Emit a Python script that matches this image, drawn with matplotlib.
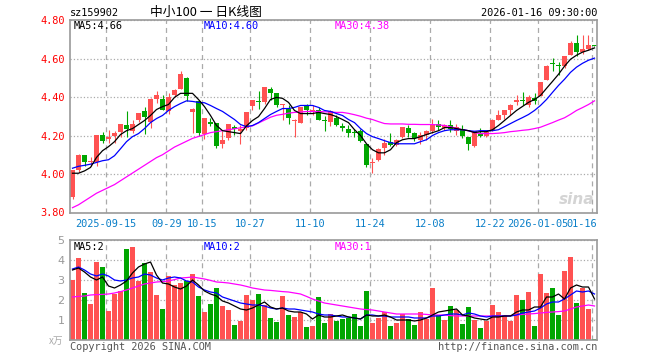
import matplotlib
matplotlib.use('Agg')
import matplotlib.pyplot as plt
import numpy as np
from matplotlib.transforms import blended_transform_factory

plt.rcParams['lines.scale_dashes'] = False

# ---------------- data ----------------
opens = [3.88, 4.02, 4.10, 4.06, 4.06, 4.20, 4.18, 4.20, 4.22, 4.255,
         4.225, 4.28, 4.325, 4.27, 4.39, 4.39, 4.325, 4.41, 4.44, 4.50,
         4.32, 4.38, 4.21, 4.272, 4.265, 4.158, 4.185, 4.245, 4.225, 4.24,
         4.355, 4.378, 4.372, 4.44, 4.42, 4.358, 4.34, 4.276, 4.267, 4.356,
         4.32, 4.33, 4.28, 4.272, 4.293, 4.25, 4.235, 4.217, 4.225, 4.157,
         4.055, 4.074, 4.137, 4.168, 4.152, 4.194, 4.241, 4.215, 4.178, 4.205,
         4.225, 4.262, 4.241, 4.257, 4.225, 4.236, 4.194, 4.147, 4.21, 4.20,
         4.231, 4.283, 4.304, 4.335, 4.372, 4.384, 4.356, 4.393, 4.403, 4.487,
         4.575, 4.565, 4.56, 4.617, 4.68, 4.633, 4.648, 4.668]
highs = [4.02, 4.105, 4.10, 4.09, 4.20, 4.22, 4.23, 4.225, 4.26, 4.325,
         4.283, 4.316, 4.346, 4.393, 4.43, 4.408, 4.42, 4.44, 4.534, 4.502,
         4.345, 4.382, 4.29, 4.29, 4.267, 4.225, 4.262, 4.257, 4.257, 4.32,
         4.387, 4.43, 4.45, 4.45, 4.42, 4.366, 4.361, 4.288, 4.35, 4.366,
         4.361, 4.35, 4.30, 4.33, 4.304, 4.267, 4.257, 4.236, 4.236, 4.157,
         4.084, 4.137, 4.184, 4.215, 4.18, 4.246, 4.257, 4.22, 4.22, 4.23,
         4.288, 4.283, 4.262, 4.278, 4.262, 4.252, 4.194, 4.225, 4.241, 4.225,
         4.288, 4.33, 4.335, 4.366, 4.408, 4.424, 4.408, 4.419, 4.476, 4.565,
         4.601, 4.58, 4.612, 4.69, 4.722, 4.722, 4.722, 4.668]
lows = [3.87, 4.01, 4.04, 4.04, 4.04, 4.16, 4.16, 4.16, 4.19, 4.19,
        4.215, 4.27, 4.21, 4.24, 4.37, 4.33, 4.314, 4.40, 4.44, 4.377,
        4.215, 4.20, 4.18, 4.25, 4.137, 4.137, 4.175, 4.205, 4.158, 4.23,
        4.335, 4.34, 4.366, 4.387, 4.35, 4.283, 4.262, 4.194, 4.267, 4.304,
        4.304, 4.278, 4.225, 4.25, 4.247, 4.225, 4.194, 4.19, 4.168, 4.037,
        4.006, 4.068, 4.10, 4.147, 4.147, 4.189, 4.194, 4.173, 4.157, 4.178,
        4.215, 4.23, 4.23, 4.22, 4.205, 4.189, 4.126, 4.14, 4.19, 4.194,
        4.225, 4.278, 4.288, 4.309, 4.356, 4.361, 4.35, 4.366, 4.403, 4.487,
        4.534, 4.513, 4.549, 4.617, 4.612, 4.622, 4.643, 4.666]
closes = [4.02, 4.10, 4.06, 4.07, 4.20, 4.17, 4.19, 4.215, 4.26, 4.235,
          4.26, 4.315, 4.295, 4.39, 4.41, 4.335, 4.40, 4.435, 4.52, 4.405,
          4.34, 4.215, 4.29, 4.262, 4.145, 4.178, 4.26, 4.235, 4.236, 4.32,
          4.387, 4.375, 4.45, 4.42, 4.36, 4.362, 4.29, 4.28, 4.35, 4.33,
          4.335, 4.278, 4.275, 4.325, 4.252, 4.24, 4.215, 4.212, 4.173, 4.048,
          4.06, 4.131, 4.163, 4.152, 4.178, 4.246, 4.215, 4.189, 4.20, 4.225,
          4.262, 4.246, 4.257, 4.236, 4.246, 4.20, 4.157, 4.225, 4.195, 4.22,
          4.283, 4.304, 4.335, 4.361, 4.382, 4.38, 4.398, 4.377, 4.476, 4.56,
          4.57, 4.56, 4.612, 4.68, 4.633, 4.648, 4.669, 4.666]

ma5 = [4.004, 4.004, 4.016, 4.034, 4.086, 4.121, 4.142, 4.168, 4.205, 4.225,
       4.236, 4.257, 4.278, 4.304, 4.335, 4.35, 4.361, 4.398, 4.419, 4.419,
       4.419, 4.387, 4.35, 4.304, 4.252, 4.225, 4.22, 4.215, 4.21, 4.25,
       4.278, 4.298, 4.34, 4.387, 4.398, 4.393, 4.372, 4.33, 4.314, 4.314,
       4.314, 4.32, 4.314, 4.309, 4.298, 4.283, 4.267, 4.23, 4.20, 4.157,
       4.126, 4.11, 4.11, 4.126, 4.163, 4.178, 4.184, 4.184, 4.194, 4.205,
       4.215, 4.225, 4.241, 4.241, 4.236, 4.23, 4.225, 4.215, 4.22, 4.22,
       4.23, 4.252, 4.278, 4.304, 4.33, 4.351, 4.372, 4.387, 4.408, 4.445,
       4.481, 4.518, 4.56, 4.596, 4.617, 4.633, 4.643, 4.655]
ma10 = [4.03, 4.04, 4.045, 4.051, 4.06, 4.069, 4.074, 4.095, 4.131, 4.168,
        4.194, 4.21, 4.236, 4.267, 4.288, 4.304, 4.33, 4.35, 4.366, 4.38,
        4.377, 4.372, 4.37, 4.356, 4.34, 4.325, 4.304, 4.283, 4.257, 4.246,
        4.252, 4.267, 4.288, 4.309, 4.325, 4.34, 4.34, 4.346, 4.356, 4.356,
        4.356, 4.346, 4.33, 4.325, 4.314, 4.304, 4.283, 4.267, 4.236, 4.21,
        4.194, 4.184, 4.173, 4.163, 4.157, 4.157, 4.157, 4.157, 4.168, 4.178,
        4.20, 4.215, 4.225, 4.23, 4.23, 4.23, 4.225, 4.222, 4.225, 4.225,
        4.225, 4.23, 4.246, 4.262, 4.278, 4.293, 4.309, 4.33, 4.356, 4.387,
        4.424, 4.46, 4.492, 4.528, 4.555, 4.575, 4.591, 4.602]
ma30 = [3.825, 3.84, 3.86, 3.88, 3.90, 3.915, 3.93, 3.945, 3.965, 3.985,
        4.005, 4.025, 4.045, 4.065, 4.085, 4.10, 4.12, 4.14, 4.155, 4.17,
        4.185, 4.195, 4.205, 4.215, 4.22, 4.225, 4.23, 4.235, 4.24, 4.245,
        4.25, 4.265, 4.28, 4.295, 4.305, 4.31, 4.316, 4.32, 4.322, 4.325,
        4.325, 4.325, 4.323, 4.322, 4.32, 4.32, 4.315, 4.308, 4.30, 4.29,
        4.283, 4.272, 4.262, 4.26, 4.26, 4.26, 4.258, 4.258, 4.257, 4.257,
        4.257, 4.255, 4.252, 4.245, 4.238, 4.23, 4.225, 4.215, 4.21, 4.21,
        4.21, 4.212, 4.215, 4.22, 4.223, 4.227, 4.23, 4.236, 4.243, 4.255,
        4.267, 4.28, 4.292, 4.31, 4.33, 4.345, 4.361, 4.38]

volume = [3.0, 4.1, 2.35, 1.8, 3.9, 3.65, 1.45, 2.3, 2.45, 4.55,
          4.65, 2.95, 3.85, 3.4, 2.25, 1.55, 3.2, 2.75, 2.85, 2.95,
          3.3, 2.2, 1.4, 1.8, 2.6, 1.7, 1.5, 0.75, 0.95, 2.25,
          2.0, 2.3, 1.75, 1.1, 0.9, 2.2, 1.25, 1.15, 1.4, 0.65,
          0.7, 2.15, 0.85, 1.3, 0.95, 1.05, 1.1, 1.3, 0.7, 2.45,
          0.85, 1.1, 1.4, 0.7, 0.85, 1.3, 1.05, 0.75, 1.4, 1.05,
          2.6, 1.25, 1.0, 1.7, 1.5, 0.8, 1.65, 1.0, 0.6, 0.95,
          1.75, 1.4, 1.25, 0.95, 2.25, 2.0, 2.4, 0.7, 3.3, 2.35,
          2.6, 1.25, 3.45, 4.15, 1.85, 2.6, 1.55, 0.05]
vol_ma5 = [3.5, 3.6, 3.4, 3.15, 3.0, 3.15, 2.7, 2.6, 2.75, 2.95,
           3.35, 3.65, 3.8, 3.9, 3.25, 2.85, 2.8, 2.65, 2.55, 2.7,
           3.0, 2.75, 2.45, 2.3, 2.2, 1.95, 1.85, 1.7, 1.55, 1.5,
           1.6, 1.75, 1.9, 1.65, 1.55, 1.6, 1.45, 1.4, 1.4, 1.3,
           1.05, 1.25, 1.15, 1.15, 1.2, 1.25, 1.15, 1.1, 1.05, 1.25,
           1.2, 1.2, 1.25, 1.15, 1.0, 1.0, 1.0, 0.95, 1.0, 1.1,
           1.25, 1.4, 1.45, 1.5, 1.55, 1.25, 1.2, 1.1, 1.05, 1.0,
           1.15, 1.15, 1.2, 1.2, 1.4, 1.5, 1.5, 1.65, 1.65, 2.15,
           2.15, 2.3, 2.05, 2.6, 2.75, 2.65, 2.65, 2.05]
vol_ma10 = [3.55, 3.65, 3.5, 3.3, 3.2, 3.3, 3.2, 3.0, 2.95, 3.0,
            3.1, 3.15, 3.3, 3.25, 3.1, 3.0, 3.1, 3.15, 3.1, 2.95,
            2.9, 2.65, 2.5, 2.4, 2.35, 2.15, 2.05, 1.95, 1.85, 1.8,
            1.75, 1.75, 1.7, 1.6, 1.55, 1.6, 1.55, 1.55, 1.5, 1.45,
            1.4, 1.3, 1.25, 1.25, 1.2, 1.15, 1.15, 1.1, 1.05, 1.25,
            1.25, 1.2, 1.2, 1.15, 1.15, 1.15, 1.15, 1.1, 1.1, 1.1,
            1.2, 1.2, 1.25, 1.3, 1.3, 1.25, 1.35, 1.3, 1.2, 1.15,
            1.2, 1.2, 1.2, 1.2, 1.25, 1.35, 1.4, 1.45, 1.6, 1.8,
            1.9, 1.9, 2.05, 2.25, 2.45, 2.4, 2.45, 2.3]
vol_ma30 = [2.15, 2.18, 2.2, 2.25, 2.27, 2.28, 2.3, 2.35, 2.42, 2.5,
            2.6, 2.7, 2.8, 2.85, 2.9, 2.92, 2.95, 3.02, 3.1, 3.12,
            3.15, 3.1, 3.05, 2.98, 2.9, 2.88, 2.85, 2.8, 2.75, 2.68,
            2.6, 2.55, 2.5, 2.48, 2.45, 2.42, 2.4, 2.35, 2.3, 2.18,
            2.05, 1.95, 1.85, 1.8, 1.75, 1.7, 1.65, 1.6, 1.55, 1.52,
            1.5, 1.45, 1.4, 1.35, 1.3, 1.3, 1.3, 1.3, 1.3, 1.28,
            1.25, 1.25, 1.25, 1.22, 1.2, 1.2, 1.2, 1.2, 1.2, 1.2,
            1.2, 1.2, 1.2, 1.22, 1.25, 1.28, 1.3, 1.32, 1.35, 1.38,
            1.4, 1.42, 1.45, 1.55, 1.65, 1.7, 1.75, 1.7]

tick_pos = [6, 16, 22, 30, 40, 50, 60, 70, 78, 87]
tick_labels = ['2025-09-15', '09-29', '10-15', '10-27', '11-10', '11-24',
               '12-08', '12-22', '2026-01-05', '01-16']
price_ticks = [3.80, 4.00, 4.20, 4.40, 4.60, 4.80]
price_tick_labels = ['3.80', '4.00', '4.20', '4.40', '4.60', '4.80']
vol_ticks = [1, 2, 3, 4, 5]

code = 'sz159902'
title = '中小100 一 日K线图'
stamp = '2026-01-16 09:30:00'

# ---------------- style ----------------
MONO = 'DejaVu Sans Mono'
CJK = ['Noto Sans CJK SC', 'DejaVu Sans']
RED = '#FF5252'
GREEN = '#00A600'
BORDER = '#9A9A9A'
GRID = '#AAAAAA'

W, H = 660, 360
fig = plt.figure(figsize=(6.6, 3.6), dpi=100)
fig.patch.set_facecolor('white')

ax1 = fig.add_axes([70 / W, 1 - 212.5 / H, 527 / W, 192.5 / H])
ax2 = fig.add_axes([70 / W, 1 - 340 / H, 527 / W, 100 / H])

n = len(closes)
idx = np.arange(n)
o = np.array(opens); c = np.array(closes)
cols = [RED if cc >= oo else GREEN for oo, cc in zip(opens, closes)]
bw = 5 / 6

xlim = (-2.5 / 6, n - 1 + 2.5 / 6)
grid_x = [p - 0.37 for p in tick_pos]

for ax in (ax1, ax2):
    ax.set_xlim(*xlim)
    for s in ax.spines.values():
        s.set_color(BORDER)
        s.set_linewidth(1.2)
    ax.set_xticks(grid_x)
    ax.grid(axis='x', color=GRID, linestyle=(0, (3.6, 2.9)), linewidth=0.9)
    ax.grid(axis='y', color=GRID, linestyle=(0, (0.9, 1.5)), linewidth=0.9)
    ax.set_axisbelow(True)
    ax.tick_params(length=0)

# price panel
ax1.vlines(idx, lows, highs, colors=cols, linewidth=0.8)
heights = np.maximum(np.abs(c - o), 0.004)
ax1.bar(idx, heights, bw, bottom=np.minimum(o, c), color=cols, linewidth=0)
ax1.plot(idx, ma30, color='#FF00FF', linewidth=0.9)
ax1.plot(idx, ma10, color='#0000FF', linewidth=0.9)
ax1.plot(idx, ma5, color='black', linewidth=0.9)
ax1.set_ylim(3.80, 4.80)
ax1.set_yticks(price_ticks)
ax1.set_yticklabels(price_tick_labels, color='red', family=MONO, fontsize=7.4)
ax1.tick_params(axis='y', pad=4)
ax1.set_xticklabels([])

trans = blended_transform_factory(ax1.transData, fig.transFigure)
for p, lab in zip(grid_x, tick_labels):
    ha = 'center'
    xx = p
    if lab == tick_labels[-1]:
        ha = 'right'
        xx = xlim[1] - 0.05
    ax1.text(xx, 1 - 224 / H, lab, transform=trans, ha=ha, va='center',
             color='#0A7FC8', family=MONO, fontsize=7.4)

ax1.text(4 / 527, 1 - 6 / 192.5, 'MA5:%.2f' % ma5[-1], transform=ax1.transAxes,
         ha='left', va='center', color='black', family=MONO, fontsize=7.4)
ax1.text(134 / 527, 1 - 6 / 192.5, 'MA10:%.2f' % ma10[-1], transform=ax1.transAxes,
         ha='left', va='center', color='#0000FF', family=MONO, fontsize=7.4)
ax1.text(265 / 527, 1 - 6 / 192.5, 'MA30:%.2f' % ma30[-1], transform=ax1.transAxes,
         ha='left', va='center', color='#FF00FF', family=MONO, fontsize=7.4)
ax1.text(0.995, 0.03, 'sina', transform=ax1.transAxes, ha='right', va='bottom',
         color='#D4D4D4', fontsize=11, fontweight='bold', style='italic',
         family='DejaVu Sans')

# volume panel
vcols = cols
ax2.bar(idx, volume, bw, color=vcols, linewidth=0)
ax2.plot(idx, vol_ma30, color='#FF00FF', linewidth=0.9)
ax2.plot(idx, vol_ma10, color='#0000FF', linewidth=0.9)
ax2.plot(idx, vol_ma5, color='black', linewidth=0.9)
ax2.set_ylim(0, 5)
ax2.set_yticks(vol_ticks)
ax2.set_yticklabels([str(v) for v in vol_ticks], color='#999999', fontsize=8,
                    family='DejaVu Sans')
ax2.tick_params(axis='y', pad=4)
ax2.set_xticklabels([])
ax2.text(4 / 527, 1 - 6.5 / 100, 'MA5:%d' % int(vol_ma5[-1]), transform=ax2.transAxes,
         ha='left', va='center', color='black', family=MONO, fontsize=7.4)
ax2.text(134 / 527, 1 - 6.5 / 100, 'MA10:%d' % int(vol_ma10[-1]), transform=ax2.transAxes,
         ha='left', va='center', color='#0000FF', family=MONO, fontsize=7.4)
ax2.text(265 / 527, 1 - 6.5 / 100, 'MA30:%d' % int(vol_ma30[-1]), transform=ax2.transAxes,
         ha='left', va='center', color='#FF00FF', family=MONO, fontsize=7.4)

# header / footer texts
fig.text(70 / W, 1 - 12.5 / H, code, ha='left', va='center', family=MONO,
         fontsize=7.4, color='black')
fig.text(150 / W, 1 - 12.5 / H, title, ha='left', va='center', family=CJK,
         fontsize=9.2, color='black')
fig.text(597 / W, 1 - 12.5 / H, stamp, ha='right', va='center', family=MONO,
         fontsize=7.4, color='black')
fig.text(63 / W, 1 - 341 / H, 'x万', ha='right', va='center', family=CJK,
         fontsize=7, color='#AAAAAA')
fig.text(70 / W, 1 - 347 / H, 'Copyright 2026 SINA.COM', ha='left', va='center',
         family=MONO, fontsize=7.4, color='#555555')
fig.text(597 / W, 1 - 347 / H, 'http://finance.sina.com.cn', ha='right',
         va='center', family=MONO, fontsize=7.4, color='#555555')

fig.savefig('out.png', dpi=100, facecolor='white')
